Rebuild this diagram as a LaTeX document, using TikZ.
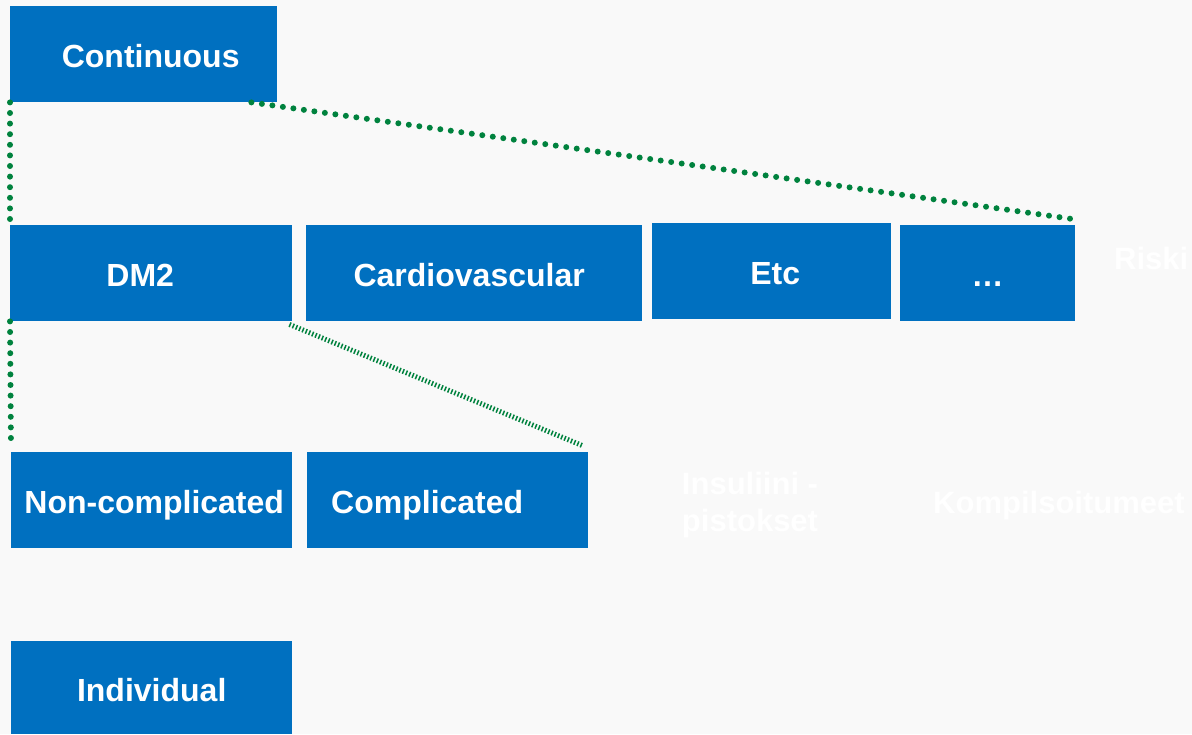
\documentclass[tikz,border=0pt]{standalone}
\usepackage{fontspec}
\setmainfont{Liberation Sans}
\usepackage{tikz}
\usetikzlibrary{positioning}
\definecolor{boxblue}{RGB}{0,112,192}
\definecolor{dotgreen}{RGB}{0,130,62}
\definecolor{bgwhite}{RGB}{249,249,249}

\begin{document}
\begin{tikzpicture}[x=1pt, y=-1pt, font=\fontsize{32}{37}\selectfont\bfseries,
  box/.style={fill=boxblue, text=white, inner sep=0pt, anchor=north west, minimum height=96pt,
    text height=27pt, text depth=0pt},
  dots/.style={dotgreen, line width=6pt, line cap=round, dash pattern=on 0pt off 10.6pt},
  ticks/.style={dotgreen, line width=5pt, dash pattern=on 1.5pt off 2pt},
  ghost/.style={text=white, align=center, font=\fontsize{31}{37}\selectfont\bfseries}]
  \fill[bgwhite] (0,0) rectangle (1192,734);
  \useasboundingbox (0,0) rectangle (1192,734);

  \node[box, minimum width=267pt] (cont) at (10,6) {\hspace*{14pt}Continuous};

  \node[box, minimum width=282pt] (dm) at (10,225) {DM2\hspace*{22pt}};
  \node[box, minimum width=336pt] (cv) at (306,225) {Cardiovascular\hspace*{10pt}};
  \node[box, minimum width=239pt] (etc) at (652,223) {\hspace*{7pt}Etc};
  \node[box, minimum width=175pt] (more) at (900,225) {…};
  \node[ghost, anchor=west, inner sep=0pt] (risk) at (1114,258) {Riski};

  \node[box, minimum width=281pt] (nc) at (11,452) {\hspace*{5pt}Non-complicated};
  \node[box, minimum width=281pt, text width=233pt, inner xsep=24pt, align=left] (cm) at (307,452) {Complicated};
  \node[ghost] (ins) at (750,505) {Insuliini -\\pistokset};
  \node[ghost, anchor=west, inner sep=0pt] (komp) at (933,505) {Kompilsoitumeet};

  \node[box, minimum width=281pt, minimum height=93pt] (ind) at (11,641) {Individual};

  \draw[dots] (cont.south west) -- (dm.north west);
  \draw[dots] ([xshift=-26pt]cont.south east) -- ([shift={(-3pt,6pt)}]more.north east);
  \draw[dots] (dm.south west) -- ([yshift=5pt]nc.north west);
  \draw[ticks] ([shift={(-3pt,-3pt)}]dm.south east) -- ([shift={(-5pt,6pt)}]cm.north east); % dense tick line
\end{tikzpicture}
\end{document}
